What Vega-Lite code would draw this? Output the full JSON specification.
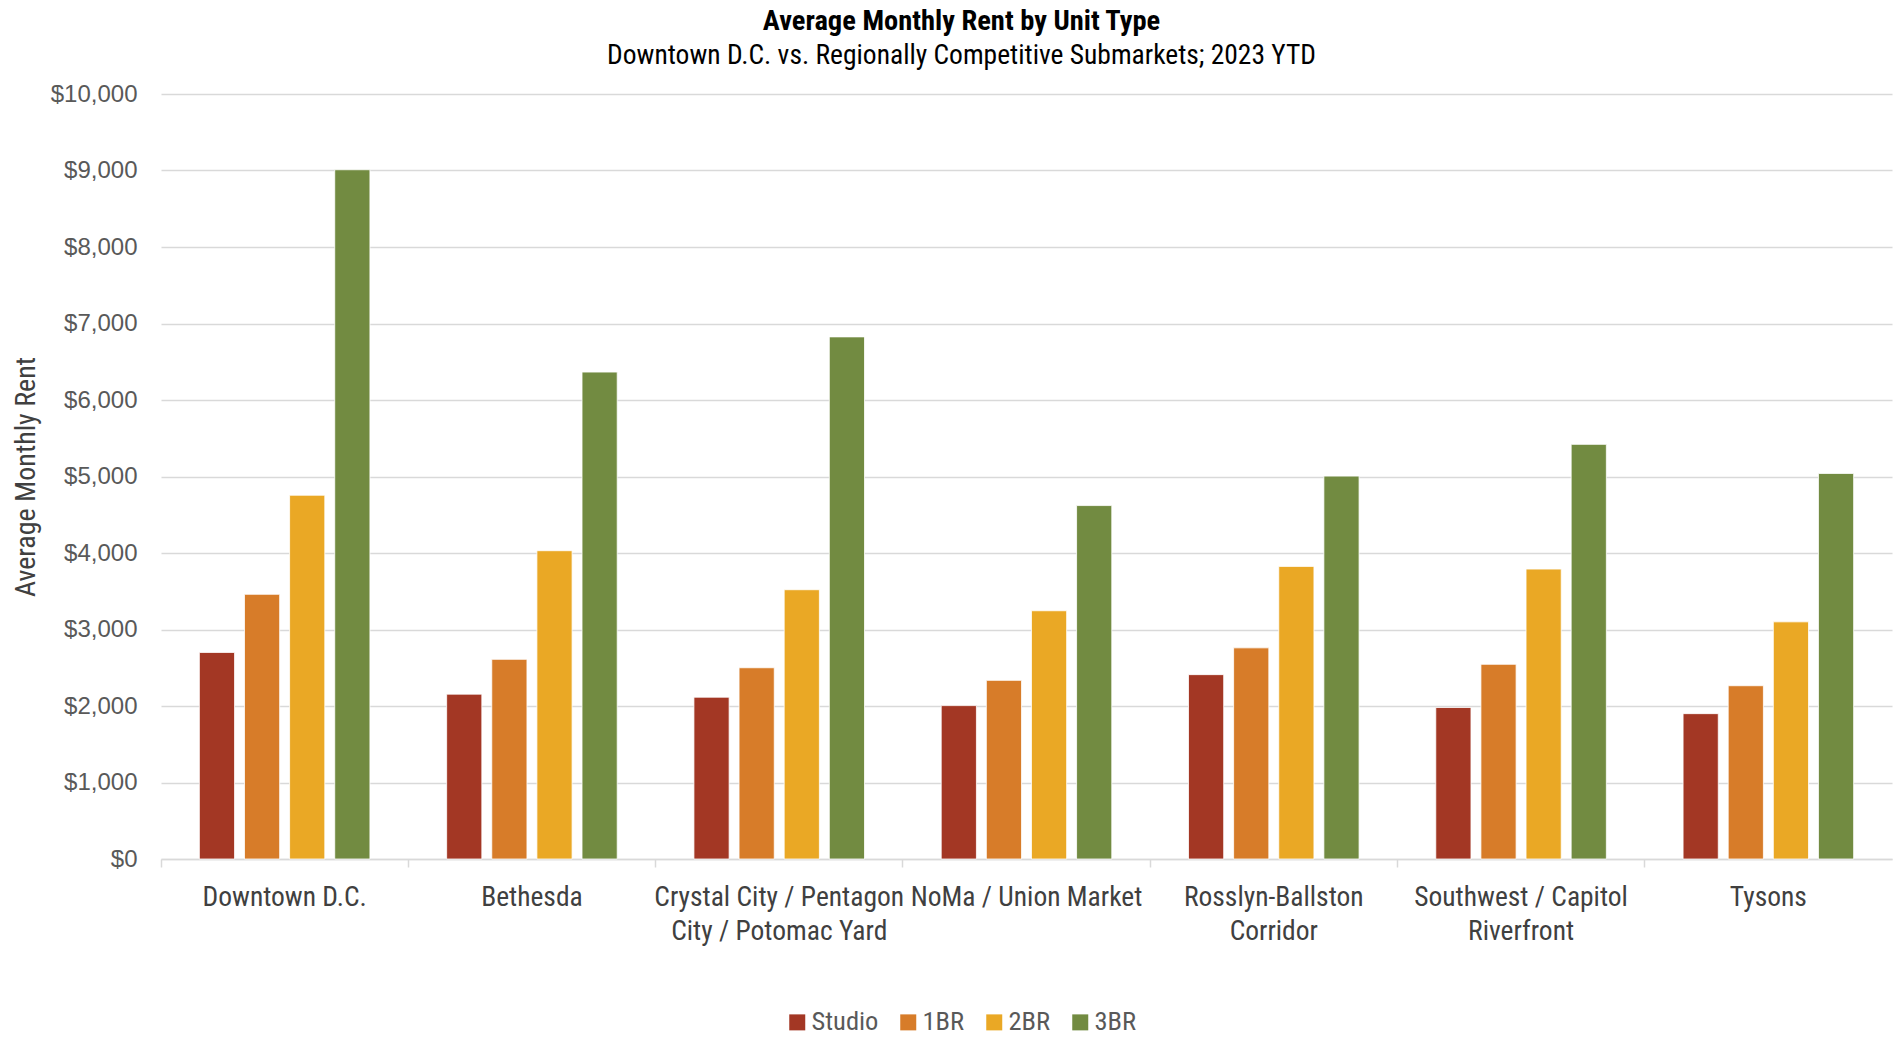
{
  "$schema": "https://vega.github.io/schema/vega-lite/v6.json",
  "width": 1731,
  "height": 765,
  "autosize": {"type": "none"},
  "padding": {"left": 161, "top": 94, "right": 6, "bottom": 182},
  "background": "white",
  "title": {
    "text": "Average Monthly Rent by Unit Type",
    "subtitle": "Downtown D.C. vs. Regionally Competitive Submarkets; 2023 YTD",
    "anchor": "middle",
    "dx": -65,
    "offset": 13,
    "font": "Liberation Sans Narrow, Roboto Condensed, Liberation Sans, sans-serif",
    "fontSize": 28.5,
    "fontWeight": "bold",
    "color": "#000000",
    "subtitleFont": "Liberation Sans Narrow, Roboto Condensed, Liberation Sans, sans-serif",
    "subtitleFontSize": 27.5,
    "subtitleColor": "#000000",
    "subtitlePadding": 6
  },
  "data": {
    "values": [
      {"submarket": "Downtown D.C.", "unit": "Studio", "rent": 2700},
      {"submarket": "Downtown D.C.", "unit": "1BR", "rent": 3460},
      {"submarket": "Downtown D.C.", "unit": "2BR", "rent": 4755},
      {"submarket": "Downtown D.C.", "unit": "3BR", "rent": 9010},
      {"submarket": "Bethesda", "unit": "Studio", "rent": 2155},
      {"submarket": "Bethesda", "unit": "1BR", "rent": 2610},
      {"submarket": "Bethesda", "unit": "2BR", "rent": 4030},
      {"submarket": "Bethesda", "unit": "3BR", "rent": 6365},
      {"submarket": "Crystal City / Pentagon City / Potomac Yard", "unit": "Studio", "rent": 2115},
      {"submarket": "Crystal City / Pentagon City / Potomac Yard", "unit": "1BR", "rent": 2500},
      {"submarket": "Crystal City / Pentagon City / Potomac Yard", "unit": "2BR", "rent": 3520},
      {"submarket": "Crystal City / Pentagon City / Potomac Yard", "unit": "3BR", "rent": 6825},
      {"submarket": "NoMa / Union Market", "unit": "Studio", "rent": 2005},
      {"submarket": "NoMa / Union Market", "unit": "1BR", "rent": 2335},
      {"submarket": "NoMa / Union Market", "unit": "2BR", "rent": 3245},
      {"submarket": "NoMa / Union Market", "unit": "3BR", "rent": 4620},
      {"submarket": "Rosslyn-Ballston Corridor", "unit": "Studio", "rent": 2410},
      {"submarket": "Rosslyn-Ballston Corridor", "unit": "1BR", "rent": 2760},
      {"submarket": "Rosslyn-Ballston Corridor", "unit": "2BR", "rent": 3825},
      {"submarket": "Rosslyn-Ballston Corridor", "unit": "3BR", "rent": 5005},
      {"submarket": "Southwest / Capitol Riverfront", "unit": "Studio", "rent": 1980},
      {"submarket": "Southwest / Capitol Riverfront", "unit": "1BR", "rent": 2545},
      {"submarket": "Southwest / Capitol Riverfront", "unit": "2BR", "rent": 3790},
      {"submarket": "Southwest / Capitol Riverfront", "unit": "3BR", "rent": 5420},
      {"submarket": "Tysons", "unit": "Studio", "rent": 1900},
      {"submarket": "Tysons", "unit": "1BR", "rent": 2265},
      {"submarket": "Tysons", "unit": "2BR", "rent": 3100},
      {"submarket": "Tysons", "unit": "3BR", "rent": 5040}
    ]
  },
  "mark": {"type": "bar", "stroke": "#ffffff", "strokeWidth": 0.8},
  "encoding": {
    "x": {
      "field": "submarket",
      "type": "nominal",
      "sort": null,
      "scale": {"paddingInner": 0, "paddingOuter": 0},
      "axis": {
        "title": null,
        "labelAngle": 0,
        "bandPosition": 0,
        "labelExpr": "datum.value == 'Crystal City / Pentagon City / Potomac Yard' ? ['Crystal City / Pentagon', 'City / Potomac Yard'] : datum.value == 'Rosslyn-Ballston Corridor' ? ['Rosslyn-Ballston', 'Corridor'] : datum.value == 'Southwest / Capitol Riverfront' ? ['Southwest / Capitol', 'Riverfront'] : datum.value",
        "labelFont": "Liberation Sans Narrow, Roboto Condensed, Liberation Sans, sans-serif",
        "labelFontSize": 27.5,
        "labelColor": "#404040",
        "labelLineHeight": 34,
        "labelBaseline": "top",
        "labelPadding": 16,
        "labelLimit": 320,
        "domainColor": "#D9D9D9",
        "domainWidth": 1.5,
        "tickColor": "#D9D9D9",
        "tickWidth": 1.5,
        "tickSize": 8,
        "grid": false
      }
    },
    "xOffset": {
      "field": "unit",
      "type": "nominal",
      "sort": ["Studio", "1BR", "2BR", "3BR"],
      "scale": {"paddingInner": 0.22, "paddingOuter": 0.85}
    },
    "y": {
      "field": "rent",
      "type": "quantitative",
      "scale": {"domain": [0, 10000], "nice": false},
      "axis": {
        "title": "Average Monthly Rent",
        "titleFont": "Liberation Sans Narrow, Roboto Condensed, Liberation Sans, sans-serif",
        "titleFontSize": 28,
        "titleFontWeight": "normal",
        "titleColor": "#404040",
        "titlePadding": 10,
        "values": [0, 1000, 2000, 3000, 4000, 5000, 6000, 7000, 8000, 9000, 10000],
        "format": "$,.0f",
        "labelFont": "Liberation Sans, Arial, sans-serif",
        "labelFontSize": 24,
        "labelColor": "#595959",
        "labelPadding": 24,
        "ticks": false,
        "domain": false,
        "grid": true,
        "gridColor": "#D9D9D9",
        "gridWidth": 1.5
      }
    },
    "color": {
      "field": "unit",
      "type": "nominal",
      "sort": ["Studio", "1BR", "2BR", "3BR"],
      "scale": {"domain": ["Studio", "1BR", "2BR", "3BR"], "range": ["#A33724", "#D77C29", "#EAA825", "#728B41"]},
      "legend": {
        "title": null,
        "orient": "none",
        "direction": "horizontal",
        "legendX": 623,
        "legendY": 915,
        "symbolType": "square",
        "symbolSize": 256,
        "symbolStrokeWidth": 0,
        "labelFont": "Liberation Sans Narrow, Roboto Condensed, Liberation Sans, sans-serif",
        "labelFontSize": 26.5,
        "labelColor": "#595959",
        "labelOffset": 1,
        "columnPadding": 16
      }
    }
  },
  "config": {
    "view": {"stroke": null}
  }
}
